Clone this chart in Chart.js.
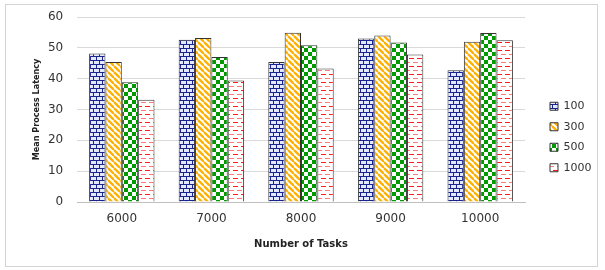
<!DOCTYPE html>
<html>
<head>
<meta charset="utf-8">
<script src="https://cdn.jsdelivr.net/npm/chart.js@4"></script>
<style>
  html, body { margin: 0; padding: 0; background: #fff; }
  #wrap { width: 605px; height: 270px; }
</style>
</head>
<body>
<div id="wrap"><canvas id="chart" width="605" height="270"></canvas></div>
<script>
// chart values
const categories = ['6000', '7000', '8000', '9000', '10000'];
const seriesNames = ['100', '300', '500', '1000'];
const lat100 = [48.2, 52.6, 45.4, 53.0, 42.7];
const lat300 = [45.4, 53.2, 54.9, 54.0, 52.0];
const lat500 = [38.8, 47.0, 50.8, 51.7, 54.8];
const lat1000 = [33.2, 39.4, 43.3, 47.8, 52.5];
const yTicks = [0, 10, 20, 30, 40, 50, 60];

// --- fill patterns (Excel style) ---
function makePattern(w, h, draw) {
  const c = document.createElement('canvas');
  c.width = w; c.height = h;
  const g = c.getContext('2d');
  draw(g);
  return g.createPattern(c, 'repeat');
}

const brick = makePattern(12, 8, g => {
  g.fillStyle = '#e3e8ff'; g.fillRect(0, 0, 12, 8);
  g.fillStyle = '#1a248f';
  g.fillRect(0, 0, 12, 1);
  g.fillRect(0, 4, 12, 1);
  g.fillRect(0, 0, 1, 4);
  g.fillRect(6, 0, 1, 4);
  g.fillRect(3, 4, 1, 4);
  g.fillRect(9, 4, 1, 4);
});

const stripes = makePattern(6, 6, g => {
  g.fillStyle = '#fff'; g.fillRect(0, 0, 6, 6);
  g.strokeStyle = '#ffb000'; g.lineWidth = 2.3;
  [-6, 0, 6].forEach(o => { g.beginPath(); g.moveTo(o, 0); g.lineTo(o + 6, 6); g.stroke(); });
});

const checker = makePattern(8, 8, g => {
  g.fillStyle = '#fff'; g.fillRect(0, 0, 8, 8);
  g.fillStyle = '#009a00';
  g.fillRect(0, 0, 4, 4);
  g.fillRect(4, 4, 4, 4);
});

const dashes = makePattern(8, 8, g => {
  g.fillStyle = '#fff'; g.fillRect(0, 0, 8, 8);
  g.fillStyle = '#ff1a1a'; g.fillRect(1, 2, 5, 1);
  g.fillStyle = '#ff7a7a'; g.fillRect(5, 6, 3, 1); g.fillRect(0, 6, 2, 1);
});

const fills = [brick, stripes, checker, dashes];
const values = [lat100, lat300, lat500, lat1000];

// light frame round the whole picture + legend nudge
const framePlugin = {
  id: 'frame',
  afterLayout(chart) {
    const lg = chart.legend;
    const w = lg.right - lg.left;
    lg.left = 550 - lg.options.labels.padding;
    lg.right = lg.left + w;
    lg.top += 7;
    lg.bottom += 7;
  },
  beforeDraw(chart) {
    const ctx = chart.ctx;
    ctx.save();
    ctx.fillStyle = '#fff';
    ctx.fillRect(0, 0, chart.width, chart.height);
    ctx.strokeStyle = '#d4d4d4';
    ctx.lineWidth = 1;
    ctx.strokeRect(5.5, 4.5, 592, 262);
    ctx.restore();
  }
};

Chart.defaults.font.family = "'DejaVu Sans', Verdana, sans-serif";
Chart.defaults.color = '#404040';

new Chart(document.getElementById('chart'), {
  type: 'bar',
  data: {
    labels: categories,
    datasets: seriesNames.map((name, i) => ({
      label: name,
      data: values[i],
      backgroundColor: fills[i],
      borderColor: '#333',
      borderWidth: 1,
      barPercentage: 1,
      categoryPercentage: 0.73,
    }))
  },
  options: {
    responsive: false,
    animation: false,
    layout: { padding: { left: 31, top: 10, right: 19, bottom: 20 } },
    plugins: {
      tooltip: { enabled: false },
      legend: {
        position: 'right',
        labels: { boxWidth: 8, boxHeight: 8, padding: 9.5, color: '#333', font: { size: 11 } }
      }
    },
    scales: {
      x: {
        afterFit: s => { s.height = 48; },
        grid: { display: false },
        border: { color: '#bfbfbf' },
        ticks: { padding: 2, font: { size: 12 }, color: '#333' },
        title: { display: true, text: 'Number of Tasks', color: '#222', padding: 0, font: { size: 10, weight: 'bold' } }
      },
      y: {
        min: 0,
        max: 60,
        afterFit: s => { s.width = 46; },
        afterBuildTicks: s => { s.ticks = yTicks.map(v => ({ value: v })); },
        grid: { color: '#d9d9d9', drawTicks: true, tickLength: 4, tickColor: 'rgba(0,0,0,0)' },
        border: { display: false },
        ticks: { padding: 9.8, font: { size: 12 }, color: '#333' },
        title: { display: true, text: 'Mean Process Latency', color: '#222', padding: 0,
          font: { family: "'DejaVu Sans Condensed', 'Liberation Sans', sans-serif", size: 9, weight: 'bold' } }
      }
    }
  },
  plugins: [framePlugin]
});
</script>
</body>
</html>
